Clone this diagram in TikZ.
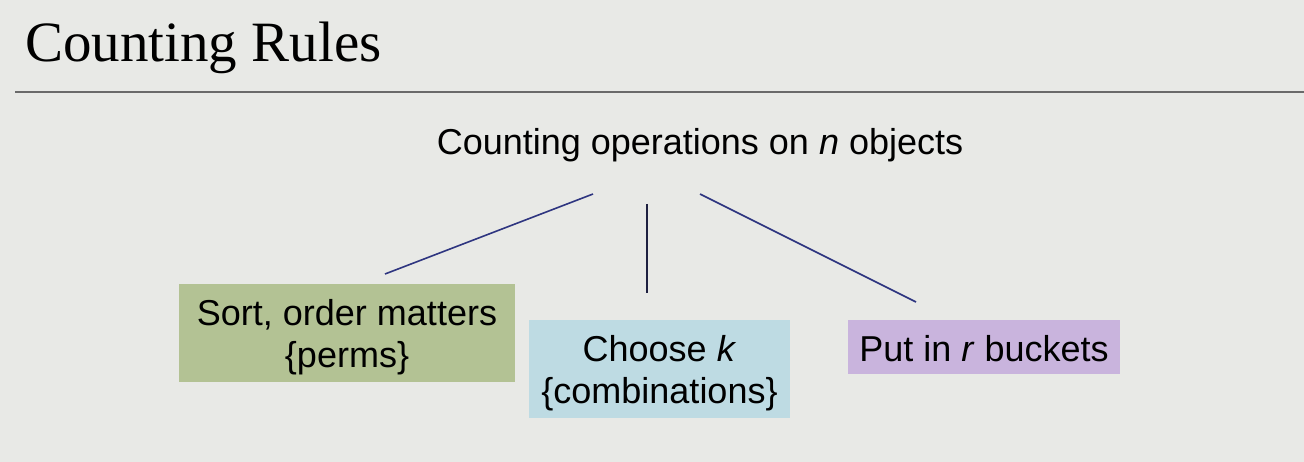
\documentclass[tikz,border=0pt]{standalone}
\usepackage{fontspec}
\newfontfamily\arial{Liberation Sans}
\newfontfamily\titleserif{Liberation Serif}
\begin{document}
\begin{tikzpicture}[x=1pt,y=-1pt,
  boxtext/.style={font=\arial\fontsize{36}{42}\selectfont, align=center, inner sep=0pt, text=black},
  catbox/.style={inner sep=0pt, minimum height=98pt},
  link/.style={draw=linkblue, line width=1.6pt},
]
\definecolor{bg}{HTML}{E8E9E6}
\definecolor{rulegray}{HTML}{6A6A6A}
\definecolor{greenbox}{HTML}{B3C294}
\definecolor{bluebox}{HTML}{BEDBE3}
\definecolor{purplebox}{HTML}{C9B4DD}
\definecolor{linkblue}{HTML}{2E3580}
\definecolor{linkdark}{HTML}{1E2040}
\fill[bg] (0,0) rectangle (1304,462);
\useasboundingbox (0,0) rectangle (1304,462);

\node[anchor=base west, inner sep=0pt, font=\titleserif\fontsize{57}{64}\selectfont] (title) at (25,62) {Counting Rules};
\draw[rulegray, line width=1.5pt] (15,92) -- (1304,92);

\node[boxtext] (top) at (700,145) {Counting operations on \textit{n} objects};

\node[catbox, fill=greenbox, minimum width=336pt] (perm) at (347,333) {};
\node[boxtext] (permtext) at ([yshift=-4pt]perm.center) {Sort, order matters\\\{perms\}};
\node[catbox, fill=bluebox, minimum width=261pt] (comb) at (659.5,369) {};
\node[boxtext] (combtext) at ([yshift=-4pt]comb.center) {Choose \textit{k}\\\{combinations\}};
\node[catbox, fill=purplebox, minimum width=272pt, minimum height=54pt] (bucket) at (984,347) {};
\node[boxtext] (buckettext) at ([yshift=-2pt]bucket.center) {Put in \textit{r} buckets};

\coordinate (l1) at (593,194);
\coordinate (l2) at (385,274);
\coordinate (m1) at (647,204);
\coordinate (m2) at (647,293);
\coordinate (r1) at (700,194);
\coordinate (r2) at (916,302);
\draw[link] (l1) -- (l2);
\draw[link, draw=linkdark] (m1) -- (m2);
\draw[link] (r1) -- (r2);
\end{tikzpicture}
\end{document}
